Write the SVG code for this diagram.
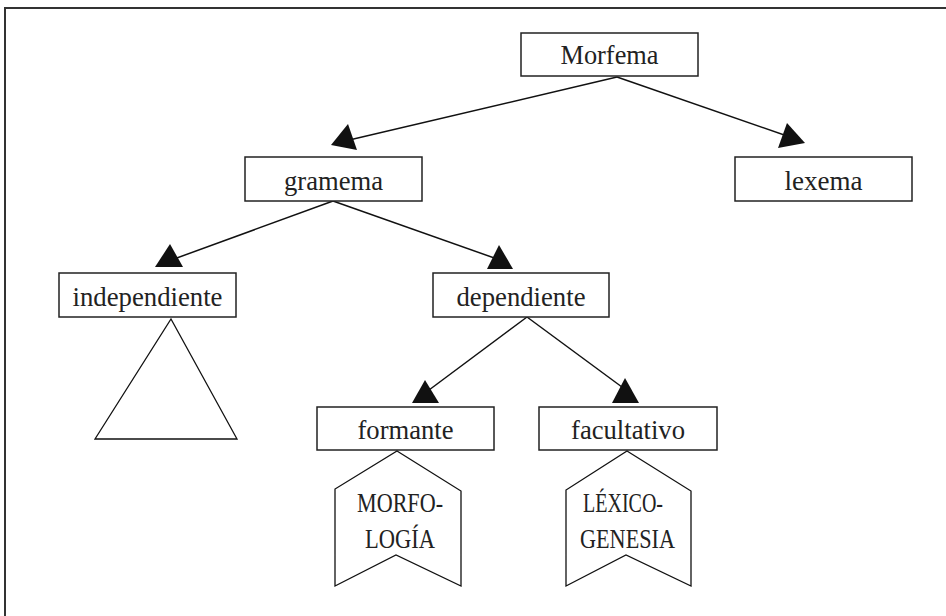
<svg xmlns="http://www.w3.org/2000/svg" width="946" height="616" viewBox="0 0 946 616">
<style>
.box{fill:#fff;stroke:#222;stroke-width:1.5}
.lbl{font-family:"Liberation Serif","Times New Roman",serif;font-size:28px;fill:#222;text-anchor:middle}
.ban{font-family:"Liberation Serif","Times New Roman",serif;font-size:26.5px;fill:#222;text-anchor:middle}
.ln{stroke:#111;stroke-width:1.5;fill:none}
.ah{fill:#111;stroke:none}
.shape{fill:#fff;stroke:#111;stroke-width:1.3}
</style>
<rect width="946" height="616" fill="#fff"/>
<path d="M5,616 V8 H946" fill="none" stroke="#333" stroke-width="2"/>
<g id="connectors">
<line class="ln" x1="617" y1="77" x2="345" y2="141"/>
<polygon class="ah" points="331,145 348,124 357,150"/>
<line class="ln" x1="617" y1="77" x2="790" y2="137"/>
<polygon class="ah" points="787,123 805,143 778,148"/>
<line class="ln" x1="333" y1="201" x2="174" y2="259"/>
<polygon class="ah" points="155,267 170,244 183,267"/>
<line class="ln" x1="333" y1="201" x2="500" y2="260"/>
<polygon class="ah" points="487,269 499,245 513,269"/>
<line class="ln" x1="527" y1="317" x2="425" y2="393"/>
<polygon class="ah" points="412,403 425,380 439,403"/>
<line class="ln" x1="527" y1="317" x2="626" y2="390"/>
<polygon class="ah" points="612,403 625,378 639,403"/>
</g>
<g id="morfema">
<rect class="box" x="521" y="33" width="177" height="43"/>
<text class="lbl" x="609.5" y="64" textLength="98" lengthAdjust="spacingAndGlyphs">Morfema</text>
</g>
<g id="gramema">
<rect class="box" x="245" y="157" width="177" height="44"/>
<text class="lbl" x="333.5" y="190" textLength="99" lengthAdjust="spacingAndGlyphs">gramema</text>
</g>
<g id="lexema">
<rect class="box" x="735" y="157" width="177" height="44"/>
<text class="lbl" x="823.5" y="190" textLength="78" lengthAdjust="spacingAndGlyphs">lexema</text>
</g>
<g id="independiente">
<rect class="box" x="59" y="273" width="177" height="44"/>
<text class="lbl" x="147.5" y="306" textLength="150" lengthAdjust="spacingAndGlyphs">independiente</text>
<polygon class="shape" points="171,319 237,439 95,439"/>
</g>
<g id="dependiente">
<rect class="box" x="433" y="273" width="176" height="44"/>
<text class="lbl" x="521" y="306" textLength="129" lengthAdjust="spacingAndGlyphs">dependiente</text>
</g>
<g id="formante">
<rect class="box" x="317" y="407" width="177" height="43"/>
<text class="lbl" x="405.5" y="439" textLength="96" lengthAdjust="spacingAndGlyphs">formante</text>
</g>
<g id="facultativo">
<rect class="box" x="539" y="407" width="178" height="43"/>
<text class="lbl" x="628" y="439" textLength="114" lengthAdjust="spacingAndGlyphs">facultativo</text>
</g>
<g id="morfologia">
<polygon class="shape" points="397,451 461,491 461,586 396,555 335,586 335,489"/>
<text class="ban" x="400" y="512" textLength="86" lengthAdjust="spacingAndGlyphs">MORFO-</text>
<text class="ban" x="400" y="548" textLength="70" lengthAdjust="spacingAndGlyphs">LOGÍA</text>
</g>
<g id="lexicogenesia">
<polygon class="shape" points="627,451 691,491 691,586 626,555 566,586 566,490"/>
<text class="ban" x="623" y="512" textLength="80" lengthAdjust="spacingAndGlyphs">LÉXICO-</text>
<text class="ban" x="627.5" y="548" textLength="95" lengthAdjust="spacingAndGlyphs">GENESIA</text>
</g>
</svg>
